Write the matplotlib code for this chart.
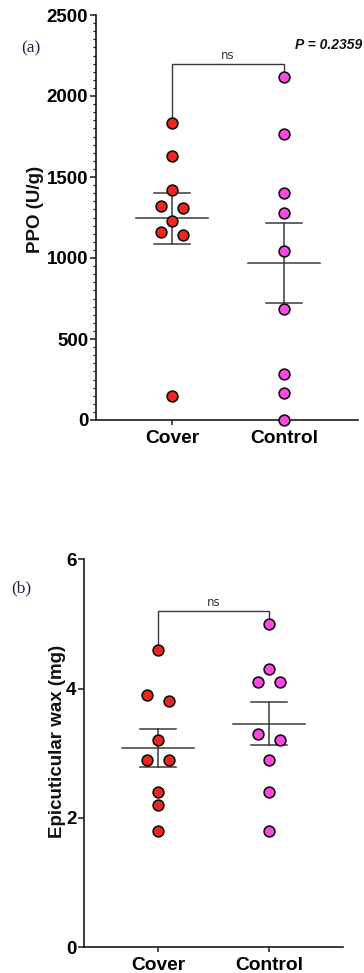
import numpy as np
import matplotlib
matplotlib.use("Agg")
import matplotlib.pyplot as plt
from matplotlib.ticker import MultipleLocator

# ---------------- data ----------------
groups = ["Cover", "Control"]

ppo_cover = [1835, 1630, 1420, 1320, 1310, 1230, 1160, 1145, 148]
ppo_control = [2119, 1763, 1403, 1280, 1043, 685, 282, 165, 0]

wax_cover = [4.6, 3.9, 3.8, 3.2, 2.9, 2.9, 2.4, 2.2, 1.8]
wax_control = [5.0, 4.3, 4.1, 4.1, 3.3, 3.2, 2.9, 2.4, 1.8]

ppo_ticks = [0, 500, 1000, 1500, 2000, 2500]
wax_ticks = [0, 2, 4, 6]

p_text = "P = 0.2359"
sig_text = "ns"

# ---------------- style ----------------
plt.rcParams['font.family'] = ['Liberation Sans', 'DejaVu Sans']
RED = '#f0261e'
MAG = '#ff46e6'
LINE = '#3a3a3a'

W, H = 364, 973
fig = plt.figure(figsize=(W / 100, H / 100), dpi=100)


def px_axes(l, t, r, b):
    return fig.add_axes([l / W, 1 - b / H, (r - l) / W, (b - t) / H])


def swarm_x(ax, x0, vals, step_px=11.0, min_gap=10.5):
    vals = np.asarray(vals, dtype=float)
    ypx = ax.transData.transform(np.column_stack([np.full(len(vals), x0), vals]))[:, 1]
    order = np.argsort(-vals, kind='stable')
    clusters = [[order[0]]]
    for a, b in zip(order[:-1], order[1:]):
        if abs(ypx[a] - ypx[b]) < min_gap:
            clusters[-1].append(b)
        else:
            clusters.append([b])
    off = np.zeros(len(vals))
    for c in clusters:
        n = len(c)
        mult = 1 if n % 2 else 2
        for k, idx in enumerate(c):
            off[idx] = (k - (n - 1) / 2) * mult * step_px
    x0_, x1_ = ax.get_xlim()
    return x0 + off * (x1_ - x0_) / ax.bbox.width


def style_axes(ax):
    for s in ['top', 'right']:
        ax.spines[s].set_visible(False)
    for s in ['left', 'bottom']:
        ax.spines[s].set_linewidth(1.2)
        ax.spines[s].set_color('#1a1a1a')
    ax.tick_params(axis='both', which='major', length=4, width=1.1, color='#1a1a1a',
                   labelsize=13.5, pad=1.5)
    ax.tick_params(axis='x', which='major', length=3.5, pad=4, labelsize=13.8)
    for lab in ax.get_yticklabels() + ax.get_xticklabels():
        lab.set_fontweight('bold')


def draw_panel(ax, data, colors):
    for i, (vals, col) in enumerate(zip(data, colors)):
        xs = swarm_x(ax, i, vals)
        ax.scatter(xs, vals, s=60, c=col, edgecolors='#111111', linewidths=1.2,
                   zorder=3, clip_on=False)
        m = np.mean(vals)
        sem = np.std(vals, ddof=1) / np.sqrt(len(vals))
        ax.plot([i - 0.325, i + 0.325], [m, m], color=LINE, lw=1.1, zorder=2)
        ax.plot([i, i], [m - sem, m + sem], color=LINE, lw=1.1, zorder=2)
        for y in (m - sem, m + sem):
            ax.plot([i - 0.165, i + 0.165], [y, y], color=LINE, lw=1.1, zorder=2)


def bracket(ax, data, upp):
    top = max(max(v) for v in data) + 13 * upp
    lows = [max(v) + 6 * upp for v in data]
    ax.plot([0, 0, 1, 1], [lows[0], top, top, lows[1]], color=LINE, lw=1.0,
            zorder=2, clip_on=False)
    ax.text(0.5, top + 2 * upp, sig_text, ha='center', va='bottom', fontsize=8.5,
            color='#333333', family='DejaVu Sans')


# ---------------- panel (a) ----------------
axa = px_axes(96, 15, 358, 420)
axa.set_xlim(-0.679, 1.661)
axa.set_ylim(ppo_ticks[0], ppo_ticks[-1])
axa.set_yticks(ppo_ticks)
axa.yaxis.set_minor_locator(MultipleLocator(50))
axa.tick_params(axis='y', which='minor', length=2.2, width=0.9, color='#1a1a1a')
axa.set_xticks([0, 1])
axa.set_xticklabels(groups)
style_axes(axa)
draw_panel(axa, [ppo_cover, ppo_control], [RED, MAG])
upp_a = (ppo_ticks[-1] - ppo_ticks[0]) / axa.bbox.height
bracket(axa, [ppo_cover, ppo_control], upp_a)
fig.text(362 / W, 1 - 45 / H, p_text, ha='right', va='center', fontsize=10,
         fontweight='bold', fontstyle='italic', color='#111111')
fig.text(21 / W, 1 - 48 / H, "(a)", ha='left', va='center', fontsize=12.5,
         family=['Liberation Serif', 'DejaVu Serif'], color='#1e2446')
fig.text(35 / W, 1 - 209 / H, "PPO (U/g)", rotation=90, ha='center', va='center',
         fontsize=13.5, fontweight='bold', color='#111111')

# ---------------- panel (b) ----------------
axb = px_axes(84, 559.3, 343, 947)
axb.set_xlim(-0.667, 1.667)
axb.set_ylim(wax_ticks[0], wax_ticks[-1])
axb.set_yticks(wax_ticks)
axb.set_xticks([0, 1])
axb.set_xticklabels(groups)
style_axes(axb)
draw_panel(axb, [wax_cover, wax_control], [RED, MAG])
upp_b = (wax_ticks[-1] - wax_ticks[0]) / axb.bbox.height
bracket(axb, [wax_cover, wax_control], upp_b)
fig.text(11 / W, 1 - 588 / H, "(b)", ha='left', va='center', fontsize=12.5,
         family=['Liberation Serif', 'DejaVu Serif'], color='#1e2446')
fig.text(57 / W, 1 - 741 / H, "Epicuticular wax (mg)", rotation=90, ha='center',
         va='center', fontsize=13.5, fontweight='bold', color='#111111')

fig.savefig("out.png", dpi=100)
